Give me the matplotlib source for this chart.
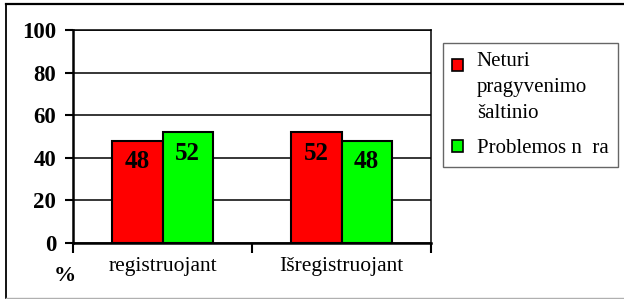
import matplotlib
matplotlib.use("Agg")
import matplotlib.pyplot as plt
import numpy as np
from matplotlib.legend_handler import HandlerPatch
from matplotlib.patches import Rectangle
from matplotlib.lines import Line2D

categories = ["registruojant", "Išregistruojant"]
series_names = ["Neturi\npragyvenimo\nšaltinio", "Problemos n  ra"]
series_values = [[48, 52], [52, 48]]
series_colors = ["#FF0000", "#00FF00"]
y_ticks = [0, 20, 40, 60, 80, 100]

plt.rcParams["font.family"] = ["Liberation Serif", "DejaVu Serif"]

W, H = 624, 299
fig = plt.figure(figsize=(W / 100, H / 100), dpi=100)
ax = fig.add_axes([73 / W, 1 - 243 / H, (431 - 73) / W, (243 - 30) / H])

x = np.arange(len(categories))
bw = 0.28
bars = []
for i, (name, vals, col) in enumerate(zip(series_names, series_values, series_colors)):
    b = ax.bar(x + (i - 0.5) * bw, vals, bw, color=col, edgecolor="black",
               linewidth=1.5, label=name, zorder=3)
    bars.append(b)
    for xi, v in zip(x + (i - 0.5) * bw, vals):
        ax.annotate(str(v), (xi, v), xytext=(0, -15), textcoords="offset points",
                    ha="center", va="center", fontsize=18, fontweight="bold", zorder=4)

ax.set_xlim(-0.5, len(categories) - 0.5)
ax.set_ylim(0, 100)
ax.set_yticks(y_ticks)
ax.set_yticklabels([str(t) for t in y_ticks], fontsize=16.5, fontweight="bold")
ax.yaxis.grid(True, color="black", linewidth=1.1, zorder=0)
ax.set_axisbelow(True)
ax.tick_params(axis="y", length=6, width=1.5, pad=6)

ax.set_xticks(np.arange(-0.5, len(categories)))
ax.set_xticklabels([])
ax.set_xticks(x, minor=True)
ax.set_xticklabels(categories, minor=True, fontsize=15.5)
ax.tick_params(axis="x", which="major", length=7, width=1.5)
ax.tick_params(axis="x", which="minor", length=0, pad=10)

for s in ["left", "bottom"]:
    ax.spines[s].set_linewidth(1.8)
for s in ["right", "top"]:
    ax.spines[s].set_linewidth(1.1)

fig.text(65 / W, 1 - 276 / H, "%", ha="center", va="center", fontsize=16, fontweight="bold")


class TopHandler(HandlerPatch):
    def __init__(self, shift, **kw):
        super().__init__(**kw)
        self.shift = shift

    def create_artists(self, legend, orig_handle, xdescent, ydescent, width, height, fontsize, trans):
        r = Rectangle((-xdescent, -ydescent + self.shift), width, height,
                      facecolor=orig_handle.get_facecolor(), edgecolor="black", linewidth=1.2)
        r.set_transform(trans)
        return [r]


handles = [b.patches[0] for b in bars]
leg = fig.legend(handles, series_names, loc="upper left",
                 bbox_to_anchor=(443 / W, 1 - 43 / H), borderaxespad=0,
                 fontsize=15, frameon=True, fancybox=False,
                 edgecolor="#404040", handlelength=0.52, handleheight=0.52,
                 handletextpad=0.65, borderpad=0.45, labelspacing=0.75,
                 handler_map={handles[0]: TopHandler(16.5), handles[1]: TopHandler(-0.5)})
leg.get_frame().set_linewidth(1.0)
for t in leg.get_texts():
    t.set_linespacing(1.5)

fig.add_artist(Line2D([6 / W, 1], [1 - 3.5 / H, 1 - 3.5 / H], color="black", linewidth=1.6))
fig.add_artist(Line2D([6 / W, 6 / W], [1 - 3.5 / H, 1 - 297.5 / H], color="black", linewidth=1.3))
fig.add_artist(Line2D([6 / W, 1], [1 - 297.5 / H, 1 - 297.5 / H], color="#b0b0b0", linewidth=1.0))

fig.savefig("out.png", dpi=100)
